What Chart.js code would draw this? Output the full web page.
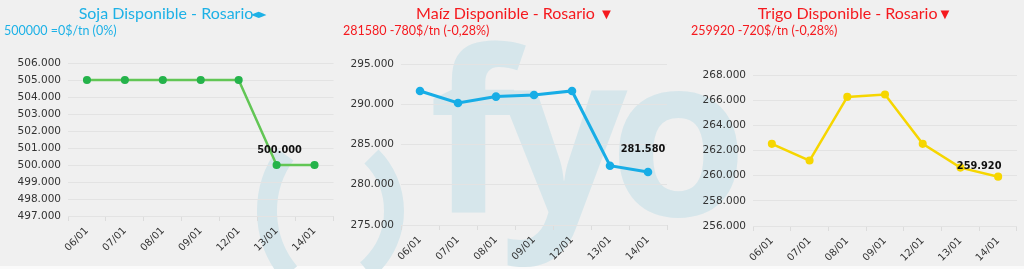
<!DOCTYPE html>
<html>
<head>
<meta charset="utf-8">
<script src="https://cdn.jsdelivr.net/npm/chart.js@4.4.1/dist/chart.umd.min.js"></script>
<style>
  html, body { margin: 0; padding: 0; background: #f0f0f0; }
  #wrap { position: relative; width: 1024px; height: 269px; overflow: hidden; }
  #strip { position: absolute; left: 0; top: 266px; width: 1024px; height: 3px; background: #fafafa; }
  #wm { position: absolute; left: 0; top: 0; }
  canvas.graf { position: absolute; top: 0; }
  .tit { position: absolute; top: 3px; transform: translateX(-50%); white-space: nowrap;
         font-family: Lato, "Open Sans", sans-serif; font-size: 16px; }
  .sub { position: absolute; top: 23px; white-space: nowrap;
         font-family: Lato, "Open Sans", sans-serif; font-size: 12.5px; }
  .azul { color: #1db1e6; }
  .rojo { color: #f5191e; }
  .rombo { display: inline-block; transform: scale(1.5, 0.6); font-size: 13px; }
  .tri { font-size: 15px; line-height: 10px; }
</style>
</head>
<body>
<div id="wrap">
  <div id="strip"></div>
  <canvas id="wm" width="1024" height="269"></canvas>

  <canvas class="graf" id="cSoja" width="340" height="269" style="left:0"></canvas>
  <canvas class="graf" id="cMaiz" width="340" height="269" style="left:340px"></canvas>
  <canvas class="graf" id="cTrigo" width="344" height="269" style="left:680px"></canvas>

  <div class="tit azul" style="left:171px">Soja Disponible - Rosario<span class="rombo">◆</span></div>
  <div class="sub azul" style="left:4px">500000 =0$/tn (0%)</div>

  <div class="tit rojo" style="left:515px">Maíz Disponible - Rosario <span class="tri">▼</span></div>
  <div class="sub rojo" style="left:343px">281580 -780$/tn (-0,28%)</div>

  <div class="tit rojo" style="left:855px">Trigo Disponible - Rosario<span class="tri">▼</span></div>
  <div class="sub rojo" style="left:691px">259920 -720$/tn (-0,28%)</div>
</div>

<script>
// datos
const fechas = ['06/01', '07/01', '08/01', '09/01', '12/01', '13/01', '14/01'];
const soja  = [505000, 505000, 505000, 505000, 505000, 500000, 500000];
const maiz  = [291650, 290150, 290950, 291150, 291650, 282360, 281580];
const trigo = [262530, 261200, 266260, 266450, 262530, 260640, 259920];

// eje y: [min, max, paso]
const ejeSoja  = [497000, 506000, 1000];
const ejeMaiz  = [275000, 295000, 5000];
const ejeTrigo = [256000, 268000, 2000];

const fmt = n => String(Math.round(n)).replace(/\B(?=(\d{3})+(?!\d))/g, '.');

// marca de agua (fyo)
(function() {
  const ctx = document.getElementById('wm').getContext('2d');
  ctx.fillStyle = '#d6e6eb';
  ctx.strokeStyle = '#d6e6eb';
  ctx.font = 'bold 224px "Open Sans"';
  ctx.textBaseline = 'alphabetic';
  ctx.fillText('f', 429, 213);
  ctx.fillText('y', 500, 213);
  ctx.fillText('o', 609, 216);
  ctx.lineWidth = 20;
  ctx.beginPath();
  ctx.arc(363, 211, 96, 140 * Math.PI / 180, 216 * Math.PI / 180);
  ctx.stroke();
  ctx.beginPath();
  ctx.arc(317, 211, 77, -45 * Math.PI / 180, 50 * Math.PI / 180);
  ctx.stroke();
})();

const etiquetaFinal = {
  id: 'etiquetaFinal',
  afterDatasetsDraw(chart, args, opts) {
    const meta = chart.getDatasetMeta(0);
    const i = meta.data.length - 1;
    const pt = meta.data[i];
    const v = chart.data.datasets[0].data[i];
    const ctx = chart.ctx;
    ctx.save();
    ctx.font = 'bold 9.8px "DejaVu Sans"';
    ctx.fillStyle = '#111';
    ctx.textAlign = 'center';
    ctx.textBaseline = 'middle';
    ctx.fillText(fmt(v), pt.x + opts.dx, pt.y + opts.dy);
    ctx.restore();
  }
};

function grafico(id, valores, eje, linea, punto, ancho, caja) {
  new Chart(document.getElementById(id), {
    type: 'line',
    data: {
      labels: fechas,
      datasets: [{
        data: valores,
        borderColor: linea,
        backgroundColor: punto,
        pointBackgroundColor: punto,
        pointBorderColor: punto,
        borderWidth: ancho,
        pointRadius: 2.8,
        tension: 0
      }]
    },
    options: {
      responsive: false,
      animation: false,
      devicePixelRatio: 1,
      layout: { padding: { top: caja.top, right: caja.right, left: 0, bottom: 0 } },
      plugins: {
        legend: { display: false },
        tooltip: { enabled: false },
        etiquetaFinal: { dx: caja.dx, dy: caja.dy }
      },
      scales: {
        x: {
          offset: true,
          grid: { display: true, drawOnChartArea: false, offset: true, tickLength: 5, color: '#dcdcdc' },
          border: { display: false },
          ticks: {
            autoSkip: false, maxRotation: 45, minRotation: 45, padding: 4,
            color: '#333', font: { family: 'DejaVu Sans', size: 10 }
          },
          afterFit: s => { s.height = caja.bottom; }
        },
        y: {
          min: eje[0], max: eje[1],
          grid: { color: '#e3e3e3', drawTicks: false },
          border: { display: false },
          ticks: {
            stepSize: eje[2], padding: 7,
            color: '#333', font: { family: 'DejaVu Sans', size: 10.5 },
            callback: v => fmt(v)
          },
          afterFit: s => { s.width = caja.left; }
        }
      }
    },
    plugins: [etiquetaFinal]
  });
}

grafico('cSoja', soja, ejeSoja, '#62c655', '#25b34b', 2.5,
  { left: 68, right: 6, top: 63, bottom: 53, dx: -35, dy: -15 });
grafico('cMaiz', maiz, ejeMaiz, '#17ade6', '#17ade6', 3,
  { left: 61, right: 13, top: 64, bottom: 44, dx: -5, dy: -23 });
grafico('cTrigo', trigo, ejeTrigo, '#f6d600', '#f6d600', 2.5,
  { left: 73, right: 7, top: 75, bottom: 43, dx: -19, dy: -10 });
</script>
</body>
</html>
